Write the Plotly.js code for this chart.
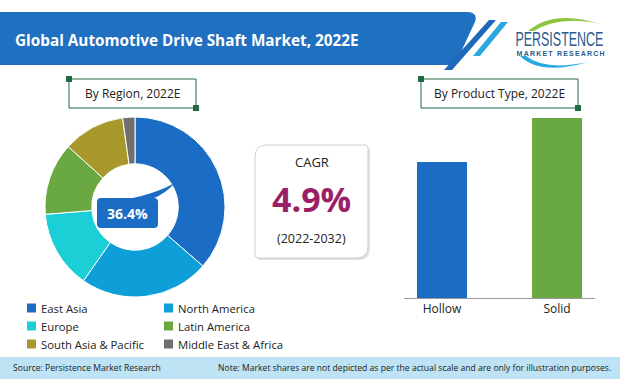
<!DOCTYPE html>
<html>
<head>
<meta charset="utf-8">
<script src="https://cdn.plot.ly/plotly-3.0.1.min.js"></script>
<style>
html,body{margin:0;padding:0;background:#fff;}
#chart{width:620px;height:379px;}
</style>
</head>
<body>
<div id="chart"></div>
<script>
// ---- Data ----
var regions = ["East Asia", "North America", "Europe", "Latin America", "South Asia & Pacific", "Middle East & Africa"];
var regionShares = [36.4, 23.3, 14.0, 13.0, 11.1, 2.2];
var regionColors = ["#1a6cc4", "#0e9fd9", "#1ccfd6", "#6aa842", "#a8982b", "#6f6f6f"];
var productTypes = ["Hollow", "Solid"];
var productShares = [43, 57];
var productColors = ["#1a6cc4", "#6aa842"];
var highlightLabel = "36.4%";
var cagrValue = "4.9%";
var cagrPeriod = "(2022-2032)";

// ---- helpers: pixel -> paper ----
var W = 620, H = 379;
function X(p){ return p / W; }
function Y(p){ return 1 - p / H; }
function P(pts){
  return pts.map(function(s){
    return X(s[0]).toFixed(5) + ',' + Y(s[1]).toFixed(5);
  }).join(' ');
}

var F = "Open Sans, Noto Sans, sans-serif";

var traces = [
  {
    type: 'pie',
    labels: regions,
    values: regionShares,
    sort: false,
    direction: 'clockwise',
    rotation: 0,
    hole: 0.48,
    textinfo: 'none',
    hoverinfo: 'label+percent',
    marker: {colors: regionColors, line: {color: '#ffffff', width: 1}},
    domain: {x: [X(45), X(225)], y: [Y(297), Y(117)]},
    showlegend: false
  },
  {
    type: 'bar',
    x: productTypes,
    y: productShares,
    marker: {color: productColors},
    width: 0.435,
    xaxis: 'x', yaxis: 'y',
    showlegend: false,
    hoverinfo: 'x+y'
  }
];

var shapes = [];
var annotations = [];

// Header banner
shapes.push({type:'path', xref:'paper', yref:'paper', line:{width:0}, fillcolor:'#1f70c1',
  path: 'M ' + P([[0,12]]) + ' L ' + P([[466,12]]) + ' Q ' + P([[480,12],[474,24]]) + ' L ' + P([[455,65]]) + ' L ' + P([[0,65]]) + ' Z'});
// Diagonal stripes
shapes.push({type:'path', xref:'paper', yref:'paper', line:{width:0}, fillcolor:'#1d68b9',
  path: 'M ' + P([[489,20]]) + ' L ' + P([[496,20]]) + ' L ' + P([[452,70]]) + ' L ' + P([[444,70]]) + ' Z'});
shapes.push({type:'path', xref:'paper', yref:'paper', line:{width:0}, fillcolor:'#2aa6e0',
  path: 'M ' + P([[501,22]]) + ' L ' + P([[508,22]]) + ' L ' + P([[480,56]]) + ' L ' + P([[473,56]]) + ' Z'});

// Logo swooshes
shapes.push({type:'path', xref:'paper', yref:'paper', line:{width:0}, fillcolor:'#8cc63f',
  path: 'M ' + P([[528,31]]) + ' Q ' + P([[554,9],[600,24]]) + ' Q ' + P([[560,15],[534,31]]) + ' Z'});
shapes.push({type:'path', xref:'paper', yref:'paper', line:{width:0}, fillcolor:'#29a9e0',
  path: 'M ' + P([[520,56]]) + ' Q ' + P([[540,76],[588,62]]) + ' Q ' + P([[545,71],[526,56]]) + ' Z'});
annotations.push({xref:'paper', yref:'paper', x:X(559), y:Y(39), text:'PERSISTENCE', showarrow:false,
  xanchor:'center', yanchor:'middle', font:{family:'Liberation Sans, Arial, sans-serif', size:14, color:'#2b5b8f'}});
annotations.push({xref:'paper', yref:'paper', x:X(560), y:Y(53.5), text:'MARKET RESEARCH', showarrow:false,
  xanchor:'center', yanchor:'middle', font:{family:'Liberation Sans, Arial, sans-serif', size:7, color:'#2b5b8f', weight:'bold'}});

// Title
annotations.push({xref:'paper', yref:'paper', x:X(13), y:Y(40), text:'<b>Global Automotive Drive Shaft Market, 2022E</b>', showarrow:false,
  xanchor:'left', yanchor:'middle', font:{family:F, size:15.3, color:'#ffffff'}});

// Section label boxes
function labelBox(x0, y0, x1, y1, txt){
  shapes.push({type:'rect', xref:'paper', yref:'paper', x0:X(x0), x1:X(x1), y0:Y(y1), y1:Y(y0),
    line:{color:'#1f6b42', width:1}, fillcolor:'rgba(0,0,0,0)'});
  shapes.push({type:'rect', xref:'paper', yref:'paper', x0:X(x0-3), x1:X(x0+3), y0:Y(y0+3), y1:Y(y0-3),
    line:{width:0}, fillcolor:'#1f6b42'});
  shapes.push({type:'rect', xref:'paper', yref:'paper', x0:X(x1-3), x1:X(x1+3), y0:Y(y1+3), y1:Y(y1-3),
    line:{width:0}, fillcolor:'#1f6b42'});
  annotations.push({xref:'paper', yref:'paper', x:X((x0+x1)/2), y:Y((y0+y1)/2), text:txt, showarrow:false,
    xanchor:'center', yanchor:'middle', font:{family:F, size:12, color:'#222222'}});
}
labelBox(69, 79, 196, 108, 'By Region, 2022E');
labelBox(421, 79, 578, 108, 'By Product Type, 2022E');

// Highlight callout
shapes.push({type:'path', xref:'paper', yref:'paper', line:{width:0}, fillcolor:'#1a6cc4',
  path: 'M ' + P([[128,199]]) + ' Q ' + P([[155,194],[175,183]]) + ' Q ' + P([[165,194],[152,199]]) + ' Z'});
shapes.push({type:'path', xref:'paper', yref:'paper', line:{width:0}, fillcolor:'#1a6cc4',
  path: 'M ' + P([[101,198]]) + ' L ' + P([[154,198]]) + ' Q ' + P([[158,198],[158,202]]) + ' L ' + P([[158,224]]) +
        ' Q ' + P([[158,228],[154,228]]) + ' L ' + P([[101,228]]) + ' Q ' + P([[97,228],[97,224]]) +
        ' L ' + P([[97,202]]) + ' Q ' + P([[97,198],[101,198]]) + ' Z'});
annotations.push({xref:'paper', yref:'paper', x:X(127.5), y:Y(213), text:'<b>' + highlightLabel + '</b>', showarrow:false,
  xanchor:'center', yanchor:'middle', font:{family:F, size:14, color:'#ffffff'}});

// CAGR box (shadow + box)
function cagrPath(dx, dy){
  var x0=255+dx, y0=145+dy, x1=368+dx, y1=258+dy, r=12;
  return 'M ' + P([[x0+r,y0]]) + ' L ' + P([[x1-2,y0]]) + ' L ' + P([[x1,y0+2]]) + ' L ' + P([[x1,y1-r]]) +
    ' Q ' + P([[x1,y1],[x1-r,y1]]) + ' L ' + P([[x0+2,y1]]) + ' L ' + P([[x0,y1-2]]) + ' L ' + P([[x0,y0+r]]) +
    ' Q ' + P([[x0,y0],[x0+r,y0]]) + ' Z';
}
shapes.push({type:'path', xref:'paper', yref:'paper', line:{width:0}, fillcolor:'rgba(0,0,0,0.12)', path: cagrPath(2,2)});
shapes.push({type:'path', xref:'paper', yref:'paper', line:{color:'#d0d0d0', width:1}, fillcolor:'#ffffff', path: cagrPath(0,0)});
annotations.push({xref:'paper', yref:'paper', x:X(312), y:Y(162), text:'CAGR', showarrow:false,
  xanchor:'center', yanchor:'middle', font:{family:F, size:13, color:'#222222'}});
annotations.push({xref:'paper', yref:'paper', x:X(312), y:Y(199), text:'<b>' + cagrValue + '</b>', showarrow:false,
  xanchor:'center', yanchor:'middle', font:{family:F, size:34, color:'#9b1f66'}});
annotations.push({xref:'paper', yref:'paper', x:X(312), y:Y(238), text:cagrPeriod, showarrow:false,
  xanchor:'center', yanchor:'middle', font:{family:F, size:12.5, color:'#222222'}});

// Legend (built from categories)
var legX = [27, 164], legY = [308, 326, 344];
for (var i = 0; i < regions.length; i++){
  var cx = legX[i % 2], cy = legY[Math.floor(i / 2)];
  shapes.push({type:'rect', xref:'paper', yref:'paper', x0:X(cx), x1:X(cx+9), y0:Y(cy+4.5), y1:Y(cy-4.5),
    line:{width:0}, fillcolor:regionColors[i]});
  annotations.push({xref:'paper', yref:'paper', x:X(cx+12), y:Y(cy), text:regions[i], showarrow:false,
    xanchor:'left', yanchor:'middle', font:{family:F, size:11.3, color:'#222222'}});
}

// Footer
shapes.push({type:'rect', xref:'paper', yref:'paper', x0:0, x1:1, y0:0, y1:Y(357), line:{width:0}, fillcolor:'#bee3f5'});
annotations.push({xref:'paper', yref:'paper', x:X(11), y:Y(368), text:'Source: Persistence Market Research', showarrow:false,
  xanchor:'left', yanchor:'middle', font:{family:F, size:8.6, color:'#222222'}});
annotations.push({xref:'paper', yref:'paper', x:X(613), y:Y(368), text:'Note: Market shares are not depicted as per the actual scale and are only for illustration purposes.', showarrow:false,
  xanchor:'right', yanchor:'middle', font:{family:F, size:8.6, color:'#222222'}});

var layout = {
  width: W, height: H,
  margin: {l:0, r:0, t:0, b:0, pad:0},
  paper_bgcolor: '#ffffff', plot_bgcolor: 'rgba(0,0,0,0)',
  showlegend: false,
  xaxis: {domain:[X(404), X(595)], range:[-0.33, 1.33], showgrid:false, zeroline:false,
    showline:true, linecolor:'#9a9a9a', linewidth:1, ticks:'', tickfont:{family:F, size:12, color:'#222222'},
    fixedrange:true},
  yaxis: {domain:[Y(298), Y(118)], range:[0, 57], showgrid:false, zeroline:false, showline:false,
    showticklabels:false, ticks:'', fixedrange:true},
  shapes: shapes,
  annotations: annotations,
  bargap: 0
};

Plotly.newPlot('chart', traces, layout, {displayModeBar:false, staticPlot:true}).then(function(gd){
  // give the logo word its tall, narrow look
  var texts = gd.querySelectorAll('text.annotation-text');
  texts.forEach(function(t){
    if (t.textContent === 'PERSISTENCE') {
      t.setAttribute('textLength', '88');
      t.setAttribute('lengthAdjust', 'spacingAndGlyphs');
      var bb = t.getBBox();
      var cy = bb.y + bb.height / 2;
      t.setAttribute('transform', 'translate(0,' + cy + ') scale(1,1.45) translate(0,' + (-cy) + ')');
    }
    if (t.textContent === 'MARKET RESEARCH') {
      t.setAttribute('textLength', '88');
      t.setAttribute('lengthAdjust', 'spacing');
    }
  });
});
</script>
</body>
</html>
